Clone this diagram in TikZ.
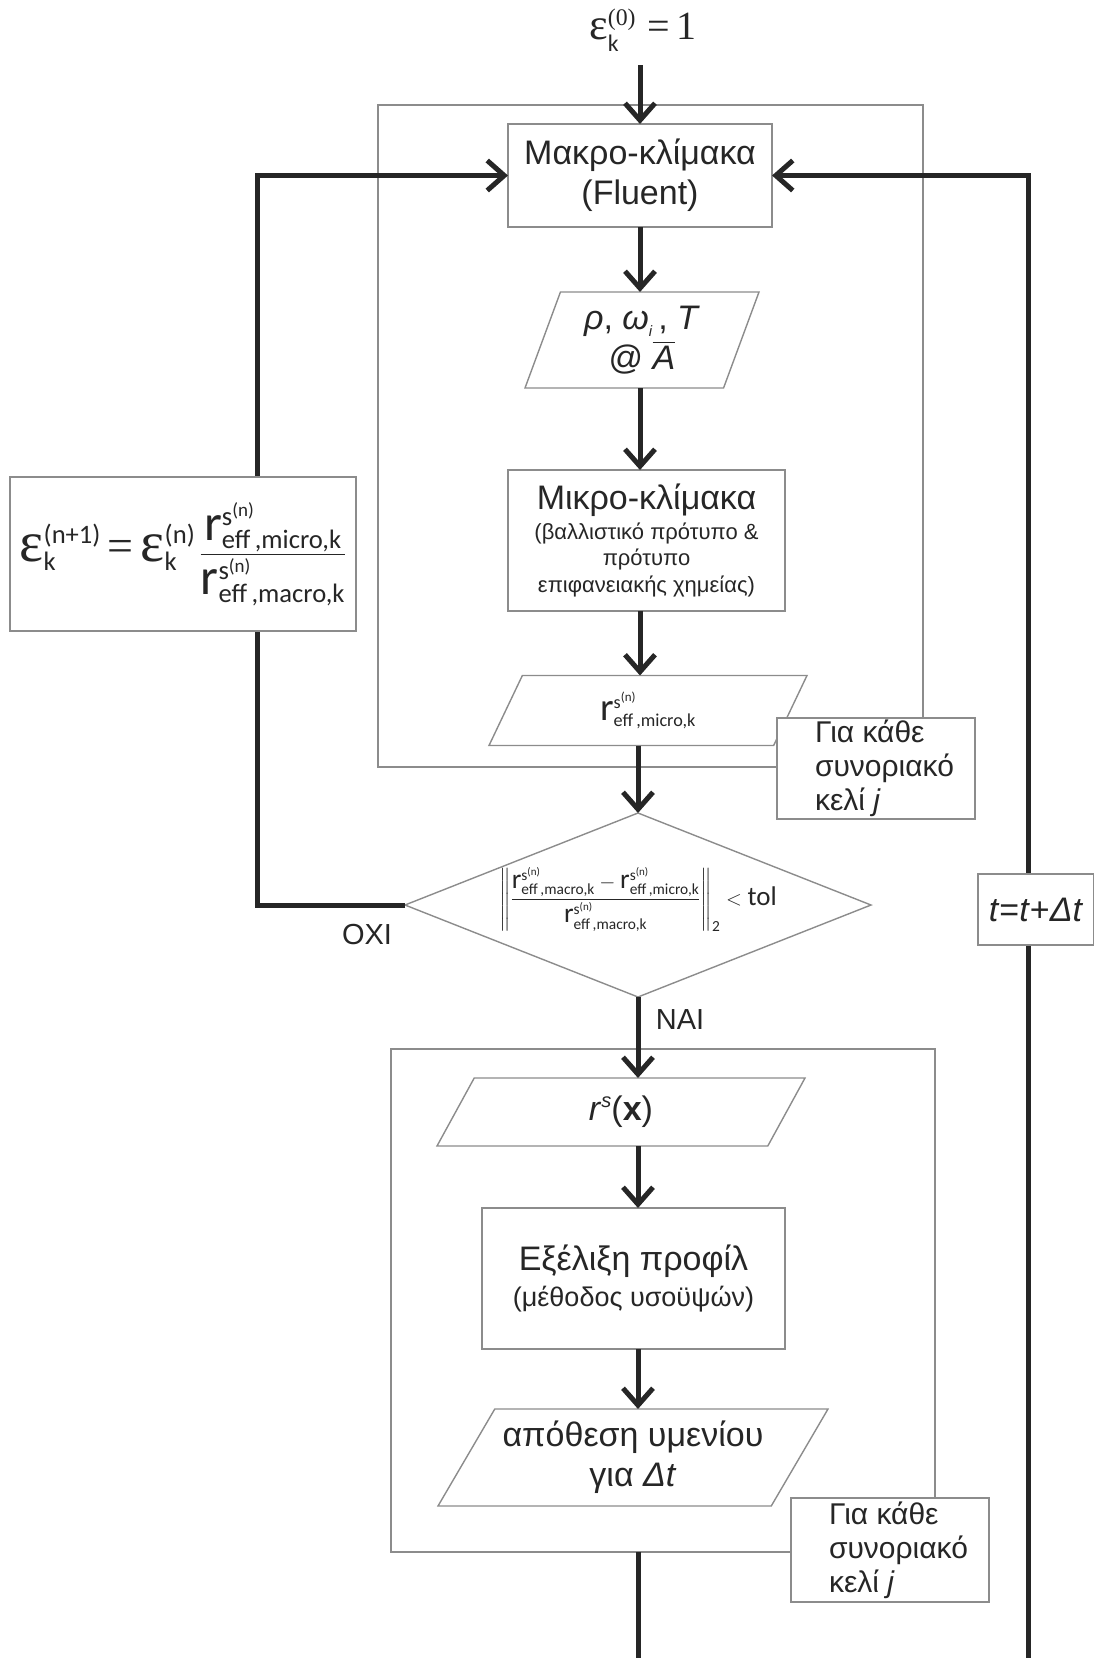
\documentclass[tikz,border=0pt]{standalone}
\usepackage{amsmath}
\usepackage{fontspec}
\setmainfont{Liberation Sans}
\newfontfamily\calfont{Carlito}
\newfontfamily\serfont{Liberation Serif}
\usetikzlibrary{shapes.geometric,arrows.meta,calc}

\definecolor{ink}{HTML}{262626}
\definecolor{framegray}{HTML}{8C8C8C}

\newcommand\cf[1]{\text{\calfont #1}}
\newcommand\reff[2][1.25]{\mbox{\scalebox{#1}{\calfont r}}^{\cf{s}^{\cf{(n)}}}_{\cf{eff\,,#2,k}}}
\newcommand\bigeps[1][1.5]{\mbox{\scalebox{#1}{\serfont ε}}}
\newcommand\eqsign[1]{\mathrel{\mbox{\fontsize{#1}{#1}\selectfont\serfont =}}}

\begin{document}
\begin{tikzpicture}[x=1pt,y=-1pt,
  box/.style={draw=framegray,line width=1.4pt,fill=white,inner sep=0pt,outer sep=0pt,
    align=flush center,text=ink,font=\fontsize{34}{40}\selectfont},
  cell/.style={draw=framegray,line width=1.4pt,inner sep=0pt,outer sep=0pt},
  iobox/.style={box,trapezium,trapezium stretches body,minimum width=#1},
  note/.style={box,text width=160pt,inner xsep=19pt,align=flush left,
    font=\fontsize{30}{34}\selectfont},
  lbl/.style={text=ink,font=\fontsize{29}{34}\selectfont},
  flow/.style={draw=ink,line width=5pt},
  arr/.style={flow,-{Straight Barb[length=17pt,width=30pt]}}]
\useasboundingbox (0,0) rectangle (1094,1658);
%frames
\node[cell,minimum width=545,minimum height=662] (cell1) at (650.5,436) {};
\node[cell,minimum width=544,minimum height=503] (cell2) at (663,1300.5) {};
%macro-micro loop
\node[text=ink,inner sep=0pt,font=\fontsize{34}{40}\selectfont] (eps0) at (643,30)
  {$\bigeps[1.3]^{\text{\serfont(0)}}_{\cf{k}}\,\eqsign{40}\text{\serfont\fontsize{40}{40}\selectfont 1}$};
\node[box,minimum width=264,minimum height=103] (makro) at (640,175.5)
  {Μακρο-κλίμακα\\(Fluent)};
\node[iobox=234,minimum height=96,trapezium left angle=62.5,trapezium right angle=117.5]
  (rho) at (642,340)
  {\textit{ρ}, \textit{ω}\raisebox{-7pt}{\fontsize{15}{15}\selectfont\textit{i}}\,, \textit{T}\\@ $\overline{\mbox{\textit{A}}}$};
\node[box,minimum width=277,minimum height=141,text width=270] (mikro) at (646.5,540.5)
  {Μικρο-κλίμακα\par\vspace{3pt}
   {\fontsize{22}{26.5}\selectfont (βαλλιστικό πρότυπο \&\\πρότυπο\\επιφανειακής χημείας)\par}};
\node[iobox=318,minimum height=70,trapezium left angle=47.6,trapezium right angle=132.4]
  (rmicro) at (648,710.5)
  {\fontsize{26}{30}\selectfont$\reff[1.5]{micro}$};
\node[box,diamond,minimum width=466,minimum height=184] (test) at (638,905)
  {\makebox[0pt]{\smash{\fontsize{22}{26}\selectfont
   $\displaystyle\left\|\frac{\reff{macro}-\reff{micro}}{\reff{macro}}\right\|_{\cf{2}}<\mbox{\calfont\fontsize{27}{27}\selectfont tol}$}}};
%profile evolution
\node[iobox=368,minimum height=68,trapezium left angle=40.4,trapezium right angle=139.6]
  (rsx) at (621,1112)
  {\textit{r}\raisebox{13pt}{\fontsize{20}{20}\selectfont\textit{s}}(\textbf{x})};
\node[box,minimum width=303,minimum height=141,text width=296] (evol) at (633.5,1278.5)
  {Εξέλιξη προφίλ\par
   {\fontsize{27}{36}\selectfont (μέθοδος υσοϋψών)\par}};
\node[iobox=390,minimum height=97,trapezium left angle=52,trapezium right angle=128]
  (depo) at (633,1457.5) {απόθεση υμενίου\\για \textit{Δt}};
\coordinate (loopR) at (1028,1658);
%arrows
\draw[arr] (makro.north |- eps0.south) ++(0,14) -- (makro.north);
\draw[arr] (makro.south) -- (makro.south |- rho.north);
\draw[arr] (makro.south |- rho.south) -- (makro.south |- mikro.north);
\draw[arr] (makro.south |- mikro.south) -- (makro.south |- rmicro.north);
\draw[arr] (test.north |- rmicro.south) -- (test.north);
\draw[arr] (test.south) -- (test.south |- rsx.north);
\draw[arr] (test.south |- rsx.south) -- (test.south |- evol.north);
\draw[arr] (test.south |- evol.south) -- (test.south |- depo.north);
\draw[flow] (test.south |- cell2.south) -- (test.south |- loopR);
\draw[arr] (test.west) -- ++(-148,0) |- (makro.west);
\draw[arr] (loopR) |- (makro.east);
%labels and side boxes
\node[lbl] (no) at (367,935) {ΟΧΙ};
\node[lbl] (yes) at (680,1020) {ΝΑΙ};
\node[box,minimum width=346,minimum height=154] (upd) at (183,554)
  {\fontsize{38}{44}\selectfont
   $\displaystyle\bigeps^{\cf{(n+1)}}_{\cf{k}}\eqsign{46}\bigeps^{\cf{(n)}}_{\cf{k}}\,\frac{\reff[1.35]{micro}}{\reff[1.35]{macro}}$};
\node[box,minimum width=116,minimum height=71] (tstep) at (1036,909.5)
  {\textit{t}=\textit{t}+\textit{Δt}};
\node[note,minimum height=101] (cell1note) at (876,768.5)
  {\leftskip=19pt Για κάθε\\συνοριακό\\κελί \textit{j}\par};
\node[note,minimum height=104] (cell2note) at (890,1550)
  {\leftskip=19pt Για κάθε\\συνοριακό\\κελί \textit{j}\par};
\end{tikzpicture}
\end{document}
